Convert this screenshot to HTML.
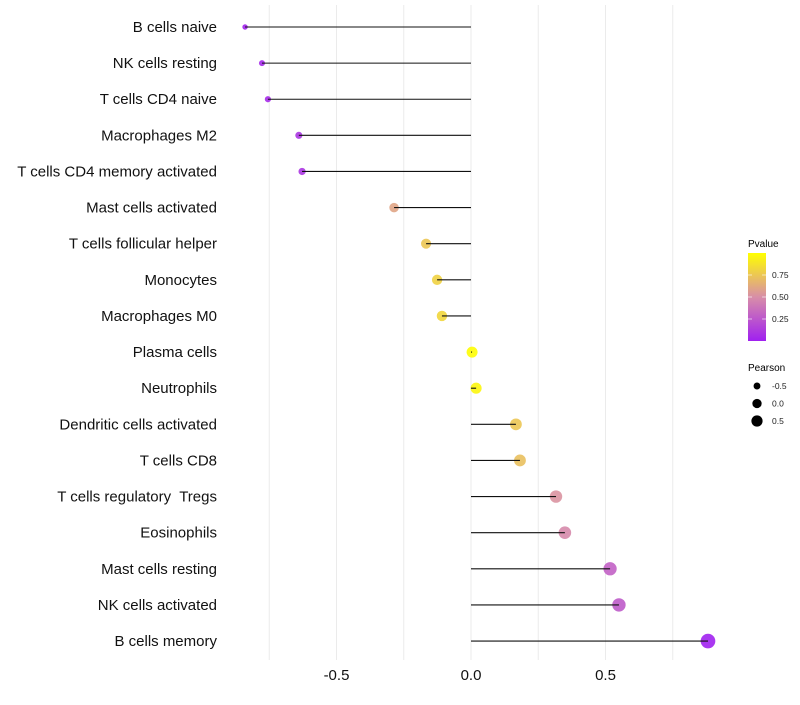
<!DOCTYPE html>
<html><head><meta charset="utf-8"><style>
body{margin:0;background:#fff;font-family:"Liberation Sans",sans-serif}
text{white-space:pre}
</style></head><body>
<svg id="c" width="800" height="700" xmlns="http://www.w3.org/2000/svg">
<defs><linearGradient id="pg" x1="0" y1="1" x2="0" y2="0">
<stop offset="0" stop-color="#a020f0"/><stop offset="0.5" stop-color="#d88ea8"/><stop offset="1" stop-color="#ffff00"/></linearGradient></defs>
<g id="grid"></g><g id="marks"></g><g id="labels"></g>
<g>
<text x="748" y="247" font-size="10">Pvalue</text>
<rect x="748" y="253" width="18" height="88" fill="url(#pg)"/>
<g id="cbt"></g>
</g>
<g>
<text x="748" y="371" font-size="10">Pearson</text>
<g id="sl"></g>
</g>
</svg>
<script>
const categories=["B cells naive","NK cells resting","T cells CD4 naive","Macrophages M2","T cells CD4 memory activated","Mast cells activated","T cells follicular helper","Monocytes","Macrophages M0","Plasma cells","Neutrophils","Dendritic cells activated","T cells CD8","T cells regulatory  Tregs","Eosinophils","Mast cells resting","NK cells activated","B cells memory"];
const pearson=[-0.84,-0.777,-0.755,-0.64,-0.628,-0.286,-0.167,-0.126,-0.108,0.004,0.019,0.167,0.182,0.316,0.349,0.517,0.55,0.881];
const pvalue=[0.02,0.04,0.05,0.1,0.1,0.6,0.75,0.8,0.82,0.99,0.96,0.75,0.72,0.52,0.48,0.3,0.27,0.01];
const xTicks=[-0.5,0,0.5];
const xTickLabels=["-0.5","0.0","0.5"];
const pTicks=[0.25,0.5,0.75];
const pTickLabels=["0.25","0.50","0.75"];
const sizeLegend=[-0.5,0,0.5];
const sizeLegendLabels=["-0.5","0.0","0.5"];

const NS="http://www.w3.org/2000/svg";
const X=v=>471+v*269;
const Y=i=>27+i*36.12;
const R=v=>Math.sqrt(Math.max(2,30+27*v));
const stops=[[160,32,240],[216,142,168],[255,255,0]];
function col(p){let t=Math.max(0,Math.min(1,p))*2;let i=t>=1?1:0;let f=t-i;let a=stops[i],b=stops[i+1];
return `rgb(${a.map((c,k)=>Math.round(c+(b[k]-c)*f)).join(",")})`;}
function mk(tag,attrs,parent){const e=document.createElementNS(NS,tag);for(const k in attrs)e.setAttribute(k,attrs[k]);document.getElementById(parent).appendChild(e);return e;}
const PY=p=>341-p*88;

for(const v of [-0.75,-0.5,-0.25,0,0.25,0.5,0.75]){
 const g=mk("line",{x1:X(v),x2:X(v),y1:5,y2:660,stroke:"#ebebeb","stroke-width":1},"grid");
 
 
}
categories.forEach((c,i)=>{
 const t=mk("text",{x:217,y:Y(i)+5,"text-anchor":"end","font-size":15,fill:"#111"},"labels");t.textContent=c;
 
 
 const d=mk("circle",{cx:X(pearson[i]),cy:Y(i),r:R(pearson[i]),fill:col(pvalue[i]),"fill-opacity":0.9},"marks");
 
 
 const l=mk("line",{x1:X(0),x2:X(pearson[i]),y1:Y(i),y2:Y(i),stroke:"#111","stroke-width":1.1},"marks");
 
 
});
xTicks.forEach((v,i)=>{
 const t=mk("text",{x:X(v),y:680,"text-anchor":"middle","font-size":15,fill:"#111"},"labels");t.textContent=xTickLabels[i];
 
 
});
pTicks.forEach((p,i)=>{
 mk("line",{x1:748,x2:752,y1:PY(p),y2:PY(p),stroke:"#fff","stroke-width":0.6},"cbt");
 mk("line",{x1:762,x2:766,y1:PY(p),y2:PY(p),stroke:"#fff","stroke-width":0.6},"cbt");
 const t=mk("text",{x:772,y:PY(p)+3,"font-size":8.5,fill:"#222"},"cbt");t.textContent=pTickLabels[i];
 
 
});
sizeLegend.forEach((v,i)=>{
 const y=386+i*17.5;
 const c=mk("circle",{cx:757,cy:y,r:R(v)*0.85,fill:"#000"},"sl");
 
 
 const t=mk("text",{x:772,y:y+3,"font-size":8.5,fill:"#222"},"sl");t.textContent=sizeLegendLabels[i];
 
 
});
</script>
</body></html>
